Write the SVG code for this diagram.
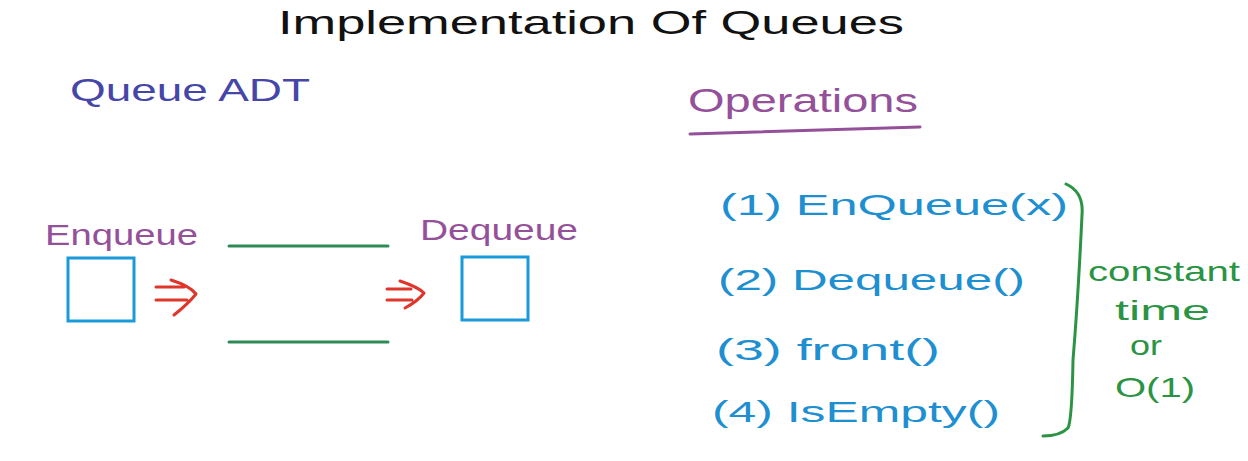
<svg xmlns="http://www.w3.org/2000/svg" width="1248" height="461" viewBox="0 0 1248 461">
<style>
  text { font-family: "Liberation Sans", "DejaVu Sans", sans-serif; }
  .title { fill: #111; font-size: 34px; }
  .adt { fill: #4646a8; font-size: 32px; }
  .purple { fill: #95509a; }
  .ops { fill: #1e8fd0; font-size: 30px; }
  .green { fill: #2a9444; font-size: 28px; }
  .box { fill: none; stroke: #1a9ad8; stroke-width: 3; }
  .wall { stroke: #2e8b57; stroke-width: 3; stroke-linecap: round; }
  .arrow { fill: none; stroke: #e0352b; stroke-width: 3; stroke-linecap: round; stroke-linejoin: round; }
</style>
<rect width="1248" height="461" fill="#ffffff"/>

<g id="title">
  <text class="title" x="278" y="34" textLength="626" lengthAdjust="spacingAndGlyphs">Implementation Of Queues</text>
</g>

<g id="queue-adt">
  <text class="adt" x="70" y="101" textLength="240" lengthAdjust="spacingAndGlyphs">Queue ADT</text>
</g>

<g id="operations-heading">
  <text class="purple" x="688" y="112" font-size="34" textLength="230" lengthAdjust="spacingAndGlyphs">Operations</text>
  <path d="M690 134 L920 127" stroke="#95509a" stroke-width="3" stroke-linecap="round" fill="none"/>
</g>

<g id="enqueue-node">
  <text class="purple" x="45" y="245" font-size="30" textLength="153" lengthAdjust="spacingAndGlyphs">Enqueue</text>
  <rect class="box" x="68" y="258" width="66" height="63"/>
</g>

<g id="queue-body">
  <line class="wall" x1="229" y1="246" x2="388" y2="246"/>
  <line class="wall" x1="229" y1="342" x2="388" y2="342"/>
</g>

<g id="dequeue-node">
  <text class="purple" x="420" y="240" font-size="30" textLength="158" lengthAdjust="spacingAndGlyphs">Dequeue</text>
  <rect class="box" x="462" y="257" width="66" height="63"/>
</g>

<g id="connectors">
  <path class="arrow" d="M156 287 L184 287 M156 300 L187 300 M171 280 Q190 286 196 294 Q188 304 174 315"/>
  <path class="arrow" d="M387 289 L411 289 M387 300 L412 300 M400 281 Q418 287 424 293 Q418 301 405 308"/>
</g>

<g id="op-list">
  <text class="ops" x="720" y="215" textLength="348" lengthAdjust="spacingAndGlyphs">(1)  EnQueue(x)</text>
  <text class="ops" x="718" y="290" textLength="307" lengthAdjust="spacingAndGlyphs">(2)  Dequeue()</text>
  <text class="ops" x="716" y="360" textLength="224" lengthAdjust="spacingAndGlyphs">(3)  front()</text>
  <text class="ops" x="712" y="422" textLength="288" lengthAdjust="spacingAndGlyphs">(4)  IsEmpty()</text>
</g>

<g id="brace">
  <path d="M1066 184 Q1084 192 1082 215 Q1078 300 1073 360 Q1072 420 1068 428 Q1060 436 1043 436" fill="none" stroke="#2a9444" stroke-width="3" stroke-linecap="round"/>
</g>

<g id="complexity-note">
  <text class="green" x="1088" y="281" textLength="152" lengthAdjust="spacingAndGlyphs">constant</text>
  <text class="green" x="1115" y="320" textLength="95" lengthAdjust="spacingAndGlyphs">time</text>
  <text class="green" x="1130" y="355" font-size="22" textLength="32" lengthAdjust="spacingAndGlyphs">or</text>
  <text class="green" x="1115" y="397" textLength="80" lengthAdjust="spacingAndGlyphs">O(1)</text>
</g>
</svg>
